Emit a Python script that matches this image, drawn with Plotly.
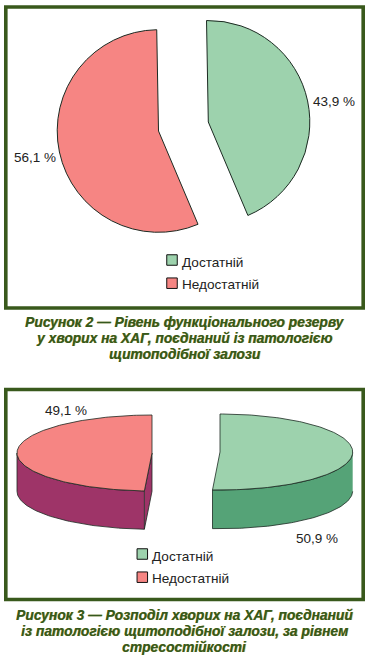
import numpy as np
import plotly.graph_objects as go

W, H = 370, 660
categories = ["Достатній", "Недостатній"]
values_fig2 = [43.9, 56.1]
values_fig3 = [50.9, 49.1]
labels_fig2 = ["43,9 %", "56,1 %"]
labels_fig3 = ["50,9 %", "49,1 %"]
caption_fig2 = ["Рисунок 2 — Рівень функціонального резерву",
                "у хворих на ХАГ, поєднаний із патологією",
                "щитоподібної залози"]
caption_fig3 = ["Рисунок 3 — Розподіл хворих на ХАГ, поєднаний",
                "із патологією щитоподібної залози, за рівнем",
                "стресостійкості"]

GREEN, RED = "#9dd2ad", "#f68583"
GREEN_SIDE, RED_SIDE = "#55a377", "#9e3468"
FRAME = "#39591c"
CAP = "#35581f"
EDGE = "#1c2a22"
FONT = "Liberation Sans"

fig = go.Figure()


def flat_slice(values, idx, cx, cy, r, color):
    colors = ["rgba(0,0,0,0)", "rgba(0,0,0,0)"]
    colors[idx] = color
    widths = [1 if i == idx else 0 for i in range(2)]
    fig.add_trace(go.Pie(
        values=values, labels=categories, sort=False, direction="clockwise",
        rotation=-1, hole=0, textinfo="none", hoverinfo="label+percent",
        showlegend=False,
        marker=dict(colors=colors, line=dict(color=EDGE, width=widths)),
        domain=dict(x=[(cx - r) / W, (cx + r) / W],
                    y=[1 - (cy + r) / H, 1 - (cy - r) / H]),
    ))


flat_slice(values_fig2, 0, 208.3, 122, 101.5, GREEN)
flat_slice(values_fig2, 1, 158.5, 131, 101.3, RED)


def poly(xs, ys, color):
    fig.add_trace(go.Scatter(
        x=xs, y=ys, mode="lines", fill="toself", fillcolor=color,
        line=dict(color=EDGE, width=0.8), hoverinfo="skip", showlegend=False))


def wedge3d(a0, a1, cx, cy, rx, ry, depth, top, side):
    """a0, a1: clockwise from 12 o'clock in degrees."""
    t = np.radians(np.linspace(a0, a1, 160))
    ex, ey = cx + rx * np.sin(t), cy - ry * np.cos(t)
    front = np.cos(t) <= 0
    if front.any():
        fx, fy = ex[front], ey[front]
        poly(np.r_[fx, fx[::-1]], np.r_[fy, fy[::-1] + depth], side)
    for a in (a0, a1):
        r = np.radians(a)
        px, py = cx + rx * np.sin(r), cy - ry * np.cos(r)
        if (a == a0 and np.sin(r) < 0) or (a == a1 and np.sin(r) > 0):
            poly([cx, px, px, cx, cx], [cy, py, py + depth, cy + depth, cy], side)
    poly(np.r_[cx, ex, cx], np.r_[cy, ey, cy], top)


a_split = values_fig3[0] / sum(values_fig3) * 360
wedge3d(0, a_split, 220, 452, 132.7, 38, 38.7, GREEN, GREEN_SIDE)
wedge3d(a_split, 360, 152, 453, 135, 38, 38.3, RED, RED_SIDE)

annotations = []


def txt(x, y, s, size=13.5, color="#222", bold=False, anchor="center"):
    font = dict(family=FONT, size=size, color=color)
    if bold:
        s = "<b><i>" + s + "</i></b>"
        font["shadow"] = "0.6px 0.4px 0 #a8a030"
    annotations.append(dict(x=x, y=y, xref="x", yref="y", text=s, showarrow=False,
                            xanchor=anchor, yanchor="middle", font=font))


for i, (name, col) in enumerate(zip(categories, (GREEN, RED))):
    for x, y0, tx, ty0 in ((172, 260, 179.5, 262), (142.3, 554, 150, 556)):
        fig.add_trace(go.Scatter(
            x=[x], y=[y0 + i * 23.2], mode="markers",
            marker=dict(symbol="square", size=10.5, color=col, line=dict(color="#111", width=1)),
            hoverinfo="skip", showlegend=False))
        txt(tx, ty0 + i * 22.7, name, size=13.6, anchor="left")

txt(333.5, 101.5, labels_fig2[0])
txt(35, 157.5, labels_fig2[1])
txt(316.5, 538, labels_fig3[0])
txt(66, 410.5, labels_fig3[1])
for i, line in enumerate(caption_fig2):
    txt(184.5, 322 + i * 16, line, size=13.8, color=CAP, bold=True)
for i, line in enumerate(caption_fig3):
    txt(184.5, 615.5 + i * 16, line, size=13.8, color=CAP, bold=True)

shapes = [dict(type="rect", xref="x", yref="y", x0=x0, x1=x1, y0=y0, y1=y1,
               line=dict(color=FRAME, width=3.6), layer="below")
          for x0, x1, y0, y1 in ((5.8, 363.2, 7, 308), (5.8, 363.2, 389.5, 599.5))]

fig.update_layout(
    width=W, height=H, margin=dict(l=0, r=0, t=0, b=0),
    paper_bgcolor="white", plot_bgcolor="rgba(0,0,0,0)",
    xaxis=dict(range=[0, W], visible=False, fixedrange=True),
    yaxis=dict(range=[H, 0], visible=False, fixedrange=True),
    annotations=annotations, shapes=shapes, showlegend=False,
)
fig.write_html("out.html", config=dict(displayModeBar=False),
               post_script="document.body.style.margin='0';document.documentElement.style.overflow='hidden';")
